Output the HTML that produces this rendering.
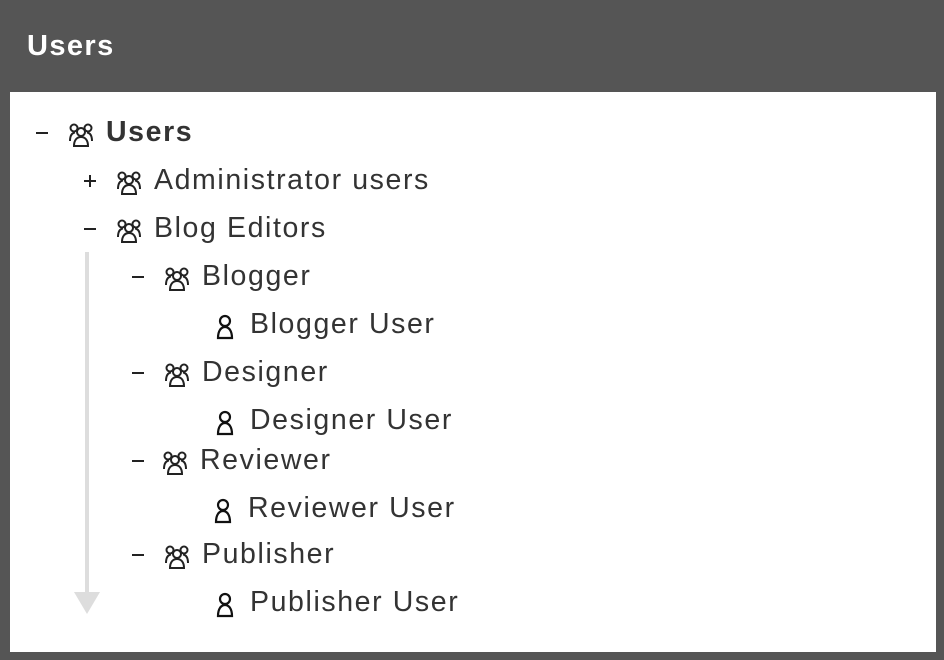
<!DOCTYPE html>
<html><head><meta charset="utf-8"><style>
body{margin:0;width:944px;height:660px;background:#555;position:relative;overflow:hidden;font-family:"Liberation Sans",sans-serif}
.h{position:absolute;left:27px;top:28px;color:#fff;font-weight:bold;font-size:29px;line-height:36px;letter-spacing:1.4px}
.panel{position:absolute;left:10px;top:92px;width:926px;height:560px;background:#fff}
.row{position:absolute;height:40px;line-height:40px;font-size:28.5px;color:#333;white-space:nowrap}
.t{position:absolute;top:0}
.ic{position:absolute;top:6px}
.lbl{position:absolute;top:-1px;letter-spacing:1.6px}
</style></head><body>
<div class="h">Users</div>
<div class="panel"></div>
<svg style="position:absolute;left:0;top:0" width="944" height="660">
<rect x="85" y="252" width="4" height="345" fill="#ddd"/>
<polygon points="74,592 100,592 87,614" fill="#ddd"/>
</svg>
<div id="tree"></div>
<script>
const rows=[
 {y:133,t:'-',tx:35,ix:68,lx:106,label:'Users',g:1,b:1},
 {y:181,t:'+',tx:83,ix:116,lx:154,label:'Administrator users',g:1},
 {y:229,t:'-',tx:83,ix:116,lx:154,label:'Blog Editors',g:1},
 {y:277,t:'-',tx:131,ix:164,lx:202,label:'Blogger',g:1},
 {y:325,t:'',ix:216,lx:250,label:'Blogger User',g:0},
 {y:373,t:'-',tx:131,ix:164,lx:202,label:'Designer',g:1},
 {y:421,t:'',ix:216,lx:250,label:'Designer User',g:0},
 {y:461,t:'-',tx:131,ix:162,lx:200,label:'Reviewer',g:1},
 {y:509,t:'',ix:214,lx:248,label:'Reviewer User',g:0},
 {y:555,t:'-',tx:131,ix:164,lx:202,label:'Publisher',g:1},
 {y:603,t:'',ix:216,lx:250,label:'Publisher User',g:0}
];
const grp='<svg width="26" height="26" viewBox="0 0 26 26" fill="none" stroke="#222" stroke-width="2"><circle cx="13" cy="10" r="4"/><path d="M6 24c0-6 3-9 7-9s7 3 7 9z"/><circle cx="6" cy="6" r="3.5"/><circle cx="20" cy="6" r="3.5"/><path d="M2 19c0-6 2-8 5-8.5M24 19c0-6-2-8-5-8.5"/></svg>';
const usr='<svg width="18" height="26" viewBox="0 0 18 26" fill="none" stroke="#111" stroke-width="2.2"><circle cx="9" cy="7" r="5"/><path d="M2 24c0-7 3-11 7-11s7 4 7 11z"/></svg>';
const dash='<svg width="14" height="40"><rect x="1" y="19" width="12" height="2" fill="#222"/></svg>';
const plus='<svg width="14" height="40"><rect x="1" y="19" width="12" height="2" fill="#222"/><rect x="6" y="14" width="2" height="12" fill="#222"/></svg>';
const tree=document.getElementById('tree');
rows.forEach((r,i)=>{
 const d=document.createElement('div');d.className='row';d.style.top=(r.y-20)+'px';d.style.left='0';
 
 
 let h='';
 if(r.t)h+='<span class="t" style="left:'+r.tx+'px">'+(r.t==='+'?plus:dash)+'</span>';
 h+='<span class="ic" style="left:'+r.ix+'px">'+(r.g?grp:usr)+'</span>';
 h+='<span class="lbl" style="left:'+r.lx+'px;'+(r.b?'font-weight:bold;':'')+'">'+r.label+'</span>';
 d.innerHTML=h;tree.appendChild(d);
});
</script>
</body></html>
